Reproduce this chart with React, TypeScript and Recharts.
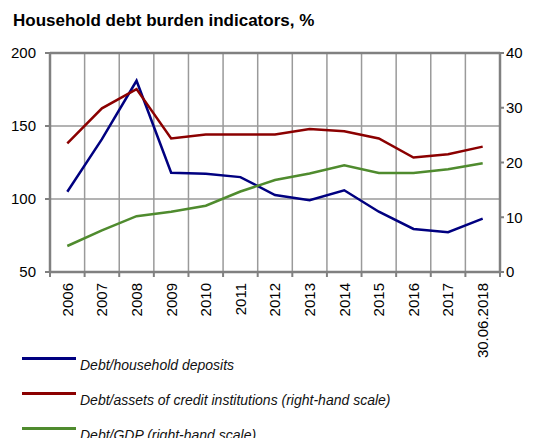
import React from 'react';
import {
  LineChart,
  Line,
  XAxis,
  YAxis,
  CartesianGrid,
  ReferenceLine,
  Legend
} from 'recharts';

const categories = [
  '2006', '2007', '2008', '2009', '2010', '2011', '2012',
  '2013', '2014', '2015', '2016', '2017', '30.06.2018'
];
const seriesNames = [
  'Debt/household deposits',
  'Debt/assets of credit institutions (right-hand scale)',
  'Debt/GDP (right-hand scale)'
];
// left-hand scale
const debtToDeposits = [105, 141, 181, 118, 117.3, 115, 102.7, 99.1, 106, 91.3, 79.5, 77.2, 86.5];
// right-hand scale
const debtToAssets = [23.5, 29.9, 33.4, 24.4, 25.1, 25.1, 25.1, 26.1, 25.7, 24.4, 20.9, 21.5, 22.9];
const debtToGdp = [4.75, 7.6, 10.2, 11.0, 12.1, 14.7, 16.8, 18.0, 19.5, 18.1, 18.1, 18.75, 19.85];

const leftTicks = [50, 100, 150, 200];
const rightTicks = [0, 10, 20, 30, 40];

const data = categories.map((label, i) => ({
  label,
  deposits: debtToDeposits[i],
  assets: debtToAssets[i],
  gdp: debtToGdp[i]
}));

const FONT = '"Liberation Sans", Arial, sans-serif';
const AXIS = '#808080';

// plot box: left axis 50px wide, right axis 33px wide
const W = 533;
const LEFT_W = 50;
const RIGHT_W = 33;
const PLOT_W = W - LEFT_W - RIGHT_W;
const BAND = PLOT_W / categories.length;
const bandEdges = [...categories, ''].map((_, i) => LEFT_W + i * BAND);

// label in the band centre, tick marks on the band edges (like Excel)
const CategoryTick = (props: any) => {
  const { x, y, payload, index } = props;
  const left = x - BAND / 2;
  const right = x + BAND / 2;
  return (
    <g>
      <path d={`M${left},${y}V${y + 5}`} stroke={AXIS} strokeWidth={2} fill="none" />
      {index === categories.length - 1 && (
        <path d={`M${right},${y}V${y + 5}`} stroke={AXIS} strokeWidth={2} fill="none" />
      )}
      <text
        x={x}
        y={y + 11}
        transform={`rotate(-90, ${x}, ${y + 11})`}
        textAnchor="end"
        dy="0.36em"
        fontSize={15}
        fontFamily={FONT}
        fill="#000"
      >
        {payload.value}
      </text>
    </g>
  );
};

const renderLegend = (props: any) => {
  // keep series order, recharts sorts the payload by name otherwise
  const items = [...(props.payload || [])].sort(
    (a: any, b: any) => seriesNames.indexOf(a.value) - seriesNames.indexOf(b.value)
  );
  return (
    <div style={{ fontFamily: FONT }}>
      {items.map((entry: any) => (
        <div key={entry.value} style={{ position: 'relative', height: 35 }}>
          <span
            style={{
              position: 'absolute',
              left: 0,
              top: 0,
              width: 54,
              height: 3,
              background: entry.color
            }}
          />
          <span
            style={{
              position: 'absolute',
              left: 58,
              top: 0,
              fontSize: 14,
              lineHeight: '16px',
              fontStyle: 'italic',
              color: '#111',
              whiteSpace: 'nowrap'
            }}
          >
            {entry.value}
          </span>
        </div>
      ))}
    </div>
  );
};

export default function App() {
  return (
    <div style={{ position: 'absolute', left: 0, top: 0, width: W, height: 438, background: '#fff' }}>
      <div
        style={{
          position: 'absolute',
          left: 13,
          top: 12,
          fontFamily: FONT,
          fontWeight: 'bold',
          fontSize: 17,
          lineHeight: '17px',
          color: '#000',
          whiteSpace: 'nowrap',
          zIndex: 1
        }}
      >
        Household debt burden indicators, %
      </div>
      <LineChart
        width={W}
        height={438}
        data={data}
        margin={{ top: 53, right: 0, left: 0, bottom: 60 }}
      >
        <CartesianGrid
          yAxisId="left"
          verticalPoints={bandEdges}
          stroke="#9a9a9a"
          strokeWidth={1.5}
        />
        <XAxis
          dataKey="label"
          scale="band"
          interval={0}
          height={106}
          tickSize={0}
          tickMargin={0}
          tick={<CategoryTick />}
          axisLine={{ stroke: AXIS, strokeWidth: 2.5 }}
          tickLine={false}
        />
        <YAxis
          yAxisId="left"
          domain={[50, 200]}
          ticks={leftTicks}
          width={LEFT_W}
          tickSize={5}
          tickMargin={9}
          interval={0}
          axisLine={{ stroke: AXIS, strokeWidth: 2.5 }}
          tickLine={{ stroke: AXIS, strokeWidth: 2 }}
          tick={{ fill: '#000', fontSize: 15, fontFamily: FONT }}
        />
        <YAxis
          yAxisId="right"
          orientation="right"
          domain={[0, 40]}
          ticks={rightTicks}
          width={RIGHT_W}
          tickSize={4}
          tickMargin={2}
          interval={0}
          axisLine={{ stroke: AXIS, strokeWidth: 2.5 }}
          tickLine={{ stroke: AXIS, strokeWidth: 2 }}
          tick={{ fill: '#000', fontSize: 15, fontFamily: FONT, textAnchor: 'start' }}
        />
        <ReferenceLine yAxisId="left" y={200} stroke={AXIS} strokeWidth={2.5} />
        <Line
          yAxisId="left"
          dataKey="deposits"
          name={seriesNames[0]}
          stroke="#000080"
          strokeWidth={2.5}
          dot={false}
          isAnimationActive={false}
        />
        <Line
          yAxisId="right"
          dataKey="assets"
          name={seriesNames[1]}
          stroke="#8b0000"
          strokeWidth={2.5}
          dot={false}
          isAnimationActive={false}
        />
        <Line
          yAxisId="right"
          dataKey="gdp"
          name={seriesNames[2]}
          stroke="#4f8b2e"
          strokeWidth={2.5}
          dot={false}
          isAnimationActive={false}
        />
        <Legend
          layout="vertical"
          verticalAlign="middle"
          align="center"
          content={renderLegend}
          wrapperStyle={{ top: 357, left: 22, width: 420, height: 105 }}
        />
      </LineChart>
    </div>
  );
}
